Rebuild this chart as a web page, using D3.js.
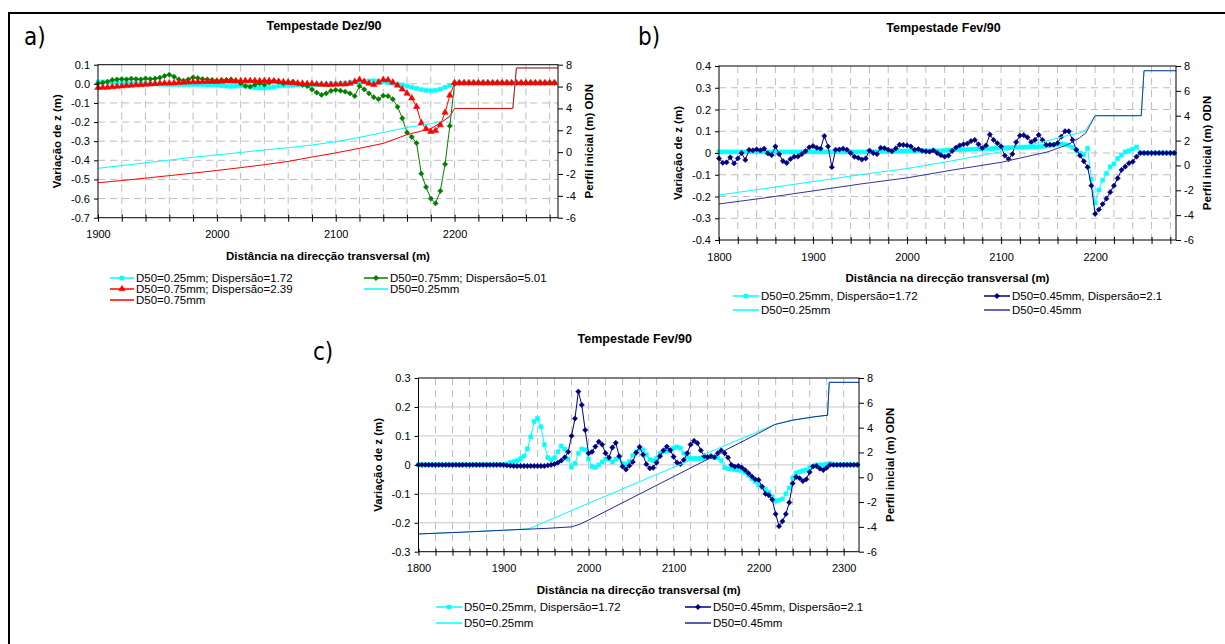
<!DOCTYPE html>
<html><head><meta charset="utf-8">
<script src="https://cdn.jsdelivr.net/npm/d3@7"></script>
<style>
body{margin:0;background:#fff}
svg{display:block}
text{font-family:"Liberation Sans",Arial,sans-serif;fill:#000}
</style>
</head><body>
<svg id="chart" width="1225" height="644"></svg>
<script>
// ---------------- DATA ----------------
// Panel a) Tempestade Dez/90 : distance grid (m), step 4
const distA = d3.range(1900, 2285, 4);
const aDisp025_172 = [
 0.010,0.010,0.009,0.008,0.007,0.006,0.005,0.004,0.003,0.002,
 0.001,0,0,-0.002,-0.003,-0.004,-0.004,-0.004,-0.005,-0.005,
 -0.004,-0.004,-0.005,-0.006,-0.007,-0.008,-0.010,-0.012,-0.014,-0.012,
 -0.010,-0.012,-0.016,-0.020,-0.022,-0.022,-0.020,-0.016,-0.012,-0.010,
 -0.008,-0.008,-0.006,-0.005,-0.005,-0.004,-0.004,-0.003,-0.002,0,
 0,0.002,0.004,0.006,0.008,0.010,0.012,0.015,0.016,0.014,
 0.010,0.006,0.002,-0.002,-0.006,-0.012,-0.018,-0.024,-0.030,-0.034,
 -0.036,-0.034,-0.028,-0.018,-0.008,
 0.005,0.005,0.005,0.005,0.005,0.005,0.005,0.005,0.005,0.005,0.005,
 0.005,0.005,0.005,0.005,0.005,0.005,0.005,0.005,0.005,0.005,0.005];
const aDisp075_501 = [
 0.002,0.006,0.011,0.020,0.023,0.025,0.023,0.027,0.025,0.023,
 0.028,0.025,0.027,0.032,0.041,0.048,0.037,0.023,0.016,0.023,
 0.034,0.030,0.025,0.023,0.020,0.016,0.020,0.020,0.023,0.016,
 0.002,-0.012,-0.015,-0.005,0.002,-0.005,0.006,0.016,0.011,0.002,
 0.008,0.011,0.002,-0.006,-0.012,-0.029,-0.046,-0.058,-0.050,-0.037,
 -0.032,-0.036,-0.041,-0.050,-0.064,-0.012,-0.029,-0.050,-0.070,-0.080,
 -0.062,-0.064,-0.080,-0.120,-0.180,-0.255,-0.278,-0.310,-0.470,-0.540,
 -0.600,-0.625,-0.560,-0.420,-0.220,
 0,0.005,0.005,0.005,0.005,0.005,0.005,0.005,0.005,0.005,0.005,
 0.005,0.005,0.005,0.005,0.005,0.005,0.005,0.005,0.005,0.005,0.005];
const aDisp075_239 = [
 -0.020,-0.019,-0.018,-0.016,-0.014,-0.012,-0.010,-0.008,-0.006,-0.005,
 -0.003,-0.002,0,0.002,0.003,0.003,0.004,0.006,0.008,0.009,
 0.010,0.010,0.011,0.012,0.012,0.012,0.013,0.014,0.014,0.015,
 0.015,0.016,0.016,0.016,0.015,0.016,0.016,0.014,0.012,0.010,
 0.008,0.005,0.003,0.002,0.001,0,-0.002,-0.003,-0.004,-0.004,
 -0.003,-0.002,-0.002,0.002,0.012,0.022,0.012,0.002,-0.004,0.008,
 0.022,0.020,0.008,-0.008,-0.028,-0.050,-0.075,-0.120,-0.205,-0.235,
 -0.250,-0.245,-0.215,-0.150,-0.060,
 0.005,0.005,0.005,0.005,0.005,0.005,0.005,0.005,0.005,0.005,0.005,
 0.005,0.005,0.005,0.005,0.005,0.005,0.005,0.005,0.005,0.005,0.005];
// initial profiles (m ODN), [distance, level]
const aProf025 = [[1900,-1.48],[1920,-1.23],[1940,-0.98],[1960,-0.73],[1980,-0.47],[2000,-0.25],
 [2020,-0.03],[2040,0.2],[2060,0.4],[2080,0.65],[2100,0.95],[2120,1.35],[2140,1.8],[2160,2.25],
 [2180,2.6],[2190,2.85],[2196,3.2],[2200,4.0],[2249,4.0],[2252,7.7],[2287,7.7]];
const aProf075 = [[1900,-2.8],[1920,-2.6],[1940,-2.38],[1960,-2.15],[1980,-1.92],[2000,-1.68],
 [2020,-1.42],[2040,-1.15],[2060,-0.85],[2080,-0.45],[2100,-0.07],[2120,0.35],[2140,0.8],[2160,1.6],
 [2180,2.15],[2190,2.8],[2196,3.3],[2200,4.0],[2249,4.0],[2252,7.7],[2287,7.7]];

// Panel b) Tempestade Fev/90
const distB = d3.range(1800, 2285, 4);
const bDisp025_172 = [
 0.005,0.005,0.005,0.005,0.005,0.005,0.005,0.005,0.005,0.005,
 0.005,0.005,0.005,0.005,0.005,0.005,0.005,0.005,0.005,0.005,
 0.005,0.005,0.005,0.005,0.005,0.005,0.005,0.005,0.005,0.005,
 0.005,0.005,0.005,0.005,0.005,0.005,0.005,0.005,0.005,0.005,
 0.006,0.006,0.007,0.007,0.007,0.008,0.008,0.008,0.009,0.009,
 0.010,0.010,0.010,0.010,0.010,0.010,0.010,0.010,0.010,0.010,
 0.012,0.013,0.014,0.015,0.015,0.016,0.016,0.017,0.018,0.018,
 0.019,0.020,0.020,0.021,0.022,0.023,0.024,0.025,0.025,0.026,
 0.026,0.027,0.027,0.028,0.028,0.029,0.030,0.032,0.035,0.038,
 0.040,0.042,0.040,0.035,0.025,0.012,0.000,-0.008,0.022,-0.120,
 -0.230,-0.170,-0.125,-0.094,-0.063,-0.050,-0.025,-0.010,0.005,0.010,
 0.018,0.028,0,0,0,0,0,0,0,0,
 0,0];
const bDisp045_21 = [
 -0.025,-0.045,-0.043,-0.020,-0.048,-0.025,0.000,-0.032,0.014,0.012,
 0.017,0.012,0.020,-0.002,-0.010,0.030,-0.005,-0.037,-0.046,-0.028,
 -0.017,-0.016,-0.005,0.008,0.026,0.032,0.024,0.020,0.078,0.030,
 -0.065,0.015,0.016,0.020,0.015,0.000,-0.017,-0.022,-0.030,-0.025,
 0.011,0.000,-0.005,0.024,0.022,0.015,0.008,0.021,0.038,0.037,
 0.035,0.030,0.015,0.018,0.010,0.008,0.006,0.012,0.000,-0.010,
 -0.017,-0.012,0.010,0.025,0.035,0.040,0.043,0.055,0.060,0.040,
 0.022,0.035,0.085,0.060,0.045,0.030,-0.012,-0.028,-0.005,0.050,
 0.080,0.082,0.072,0.050,0.060,0.083,0.060,0.037,0.038,0.038,
 0.045,0.075,0.100,0.100,0.060,0.015,-0.012,-0.038,-0.065,-0.150,
 -0.280,-0.260,-0.235,-0.210,-0.180,-0.150,-0.116,-0.078,-0.063,-0.047,
 -0.040,-0.017,0,0,0,0,0,0,0,0,
 0,0];
const bProf025 = [[1800,-2.38],[1850,-1.85],[1900,-1.3],[1950,-0.75],[2000,-0.25],[2050,0.4],
 [2100,1.1],[2150,2.0],[2170,2.4],[2183,2.6],[2190,2.85],[2195,3.4],[2200,4.0],[2249,4.0],[2252,7.62],[2286,7.62]];
const bProf045 = [[1800,-3.1],[1850,-2.6],[1900,-2.05],[1950,-1.5],[2000,-1.0],[2050,-0.35],
 [2100,0.25],[2150,1.1],[2170,1.65],[2183,2.2],[2190,2.6],[2195,3.3],[2200,4.0],[2249,4.0],[2252,7.62],[2286,7.62]];

// Panel c) Tempestade Fev/90
const distC = d3.range(1800, 2317, 4);
const cDisp025_172 = [
 0,0,0,0,0,0,0,0,0,0,
 0,0,0,0,0,0,0,0,0,0,
 0,0,0,0,0,0,0.003,0.008,0.011,0.015,
 0.021,0.030,0.055,0.097,0.150,0.160,0.132,0.070,0.025,0.017,
 0.024,0.045,0.065,0.055,0.020,-0.008,0.005,0.040,0.055,0.052,
 0.020,-0.006,-0.009,0.000,0.010,0.020,0.020,0.010,0.020,0.025,
 0.005,0.002,0.012,0.032,0.045,0.056,0.052,0.035,0.018,0.015,
 0.022,0.040,0.045,0.048,0.050,0.058,0.062,0.058,0.040,0.028,
 0.022,0.022,0.022,0.022,0.022,0.026,0.028,0.026,0.024,0.015,
 -0.010,-0.013,-0.015,-0.016,-0.018,-0.020,-0.026,-0.036,-0.048,-0.058,
 -0.070,-0.078,-0.084,-0.095,-0.110,-0.125,-0.122,-0.118,-0.100,-0.080,
 -0.045,-0.028,-0.024,-0.020,-0.018,-0.010,-0.005,0.000,0.000,0.000,
 0.003,0.005,0,0,0,0,0,0,0,0];
const cDisp045_21 = [
 0,0,0,0,0,0,0,0,0,0,
 0,0,0,0,0,0,0,0,0,0,
 0,0,0,0,0,0,-0.002,-0.003,-0.004,-0.004,
 -0.004,-0.004,-0.004,-0.004,-0.004,-0.004,-0.004,-0.004,-0.002,0.000,
 0.003,0.008,0.015,0.026,0.045,0.100,0.160,0.253,0.207,0.120,
 0.040,0.045,0.063,0.080,0.070,0.040,0.025,0.060,0.076,0.030,
 -0.006,-0.016,-0.003,0.010,0.042,0.062,0.035,0.002,-0.012,-0.010,
 0.008,0.030,0.050,0.063,0.051,0.028,0.008,0.003,0.017,0.040,
 0.070,0.083,0.075,0.050,0.030,0.027,0.030,0.026,0.040,0.050,
 0.040,0.025,0.000,-0.006,-0.004,-0.009,-0.018,-0.029,-0.040,-0.050,
 -0.052,-0.075,-0.100,-0.105,-0.120,-0.170,-0.212,-0.195,-0.170,-0.130,
 -0.064,-0.042,-0.046,-0.056,-0.050,-0.025,-0.005,-0.004,-0.013,-0.018,
 -0.010,0.000,0,0,0,0,0,0,0,0];
const cProf025 = [[1800,-4.57],[1850,-4.43],[1900,-4.27],[1930,-4.15],[2000,-2.1],[2100,0.8],
 [2200,3.7],[2219,4.25],[2240,4.6],[2265,4.87],[2281,5.0],[2283,7.65],[2318,7.65]];
const cProf045 = [[1800,-4.57],[1850,-4.43],[1900,-4.27],[1950,-4.12],[1980,-4.0],[1990,-3.78],
 [2000,-3.45],[2100,0.05],[2200,3.55],[2219,4.25],[2240,4.6],[2265,4.87],[2281,5.0],[2283,7.65],[2318,7.65]];

// tick labels
const ticksLeftA = [-7,-6,-5,-4,-3,-2,-1,0,1].map(i => i / 10);
const ticksLeftB = [-4,-3,-2,-1,0,1,2,3,4].map(i => i / 10);
const ticksLeftC = [-3,-2,-1,0,1,2,3].map(i => i / 10);
const ticksRight = [-6,-4,-2,0,2,4,6,8];

// ---------------- DRAWING ----------------
const svg = d3.select("#chart");
const C = {cyan:"#00FFFF", red:"#FF0000", green:"#008000", navy:"#000080", navyLine:"#33339A"};

// page frame
svg.append("path").attr("d", d3.line()([[9,644],[9,13],[1225,13]]))
  .attr("fill","none").attr("stroke","#000").attr("stroke-width",2);

function symbolPath(kind){
  if (kind === "square") return d3.symbol(d3.symbolSquare, 16)();
  if (kind === "triangle") return d3.symbol(d3.symbolTriangle, 18)();
  return d3.symbol(d3.symbolSquare, 14)(); // diamond (rotated)
}
function addMarker(sel, kind, color, px, py){
  sel.append("path").attr("d", symbolPath(kind))
    .attr("transform", `translate(${px},${py})` + (kind === "diamond" ? " rotate(45)" : ""))
    .attr("fill", color).attr("stroke", color).attr("stroke-width", 0.5);
}

function drawPanel(p){
  const g = svg.append("g");
  const x = d3.scaleLinear().domain(p.xDom).range([p.l, p.r]);
  const yL = d3.scaleLinear().domain(p.yLDom).range([p.b, p.t]);
  const yR = d3.scaleLinear().domain([-6, 8]).range([p.b, p.t]);
  const xMinor = d3.range(p.xDom[0], p.xDom[1] + 1e-6, 20);

  // gridlines
  const grid = g.append("g").attr("stroke", "#BDBDBD").attr("stroke-width", 1);
  xMinor.filter(v => v > p.xDom[0] && x(v) < p.r - 1).forEach(v => {
    grid.append("line").attr("x1", x(v)).attr("x2", x(v)).attr("y1", p.t).attr("y2", p.b)
      .attr("stroke-dasharray", "7,5");
  });
  p.yLTicks.filter(v => v > p.yLDom[0] + 1e-9 && v < p.yLDom[1] - 1e-9).forEach(v => {
    const ln = grid.append("line").attr("x1", p.l).attr("x2", p.r).attr("y1", yL(v)).attr("y2", yL(v));
    if (p.hGrid === "dash") ln.attr("stroke-dasharray", "7,5"); else ln.attr("stroke", "#C8C8C8");
  });

  // series
  p.series.forEach(s => {
    const yS = s.axis === "R" ? yR : yL;
    const pts = s.pts || s.dist.map((d, i) => [d, s.vals[i]]).filter(d => d[1] !== undefined);
    g.append("path").datum(pts)
      .attr("d", d3.line().x(d => x(d[0])).y(d => yS(d[1])))
      .attr("fill", "none").attr("stroke", s.color).attr("stroke-width", s.width || 1);
    if (s.marker) {
      const mg = g.append("g");
      pts.forEach(d => addMarker(mg, s.marker, s.color, x(d[0]), yS(d[1])));
    }
  });

  // plot frame
  g.append("rect").attr("x", p.l).attr("y", p.t).attr("width", p.r - p.l).attr("height", p.b - p.t)
    .attr("fill", "none").attr("stroke", "#000").attr("stroke-width", 1);

  // bottom axis
  const ax = g.append("g").attr("transform", `translate(0,${p.b})`)
    .call(d3.axisBottom(x).tickValues(xMinor).tickSizeOuter(0).tickSize(4)
      .tickFormat(d => (d % 100 === 0 ? d : "")));
  ax.select(".domain").remove();
  ax.selectAll(".tick line").attr("y1", -3).attr("y2", 4).attr("stroke", "#000");
  ax.selectAll(".tick text").attr("y", 13).attr("font-size", 11)
    .style("font-family", '"Liberation Sans",Arial,sans-serif');

  // left axis
  const al = g.append("g").attr("transform", `translate(${p.l},0)`)
    .call(d3.axisLeft(yL).tickValues(p.yLTicks).tickSizeOuter(0).tickSize(4).tickPadding(4)
      .tickFormat(p.yLFmt));
  al.select(".domain").remove();
  al.selectAll(".tick text").attr("font-size", 11).style("font-family", '"Liberation Sans",Arial,sans-serif');

  // right axis (hyphen minus as in the source)
  const ar = g.append("g").attr("transform", `translate(${p.r},0)`)
    .call(d3.axisRight(yR).tickValues(ticksRight).tickSizeOuter(0).tickSize(5).tickPadding(3)
      .tickFormat(d => String(d)));
  ar.select(".domain").remove();
  ar.selectAll(".tick text").attr("font-size", 11).style("font-family", '"Liberation Sans",Arial,sans-serif');

  // titles
  const cx = (p.l + p.r) / 2;
  g.append("text").attr("x", cx - 4).attr("y", p.titleY).attr("text-anchor", "middle")
    .attr("dominant-baseline", "central").attr("font-weight", "bold").attr("font-size", 12.5).text(p.title);
  g.append("text").attr("x", cx).attr("y", p.b + 38).attr("text-anchor", "middle")
    .attr("dominant-baseline", "central").attr("font-weight", "bold").attr("font-size", 11.5)
    .text("Distância na direcção transversal (m)");
  g.append("text").attr("transform", `translate(${p.l - 41},${(p.t + p.b) / 2}) rotate(-90)`)
    .attr("text-anchor", "middle").attr("dominant-baseline", "central")
    .attr("font-weight", "bold").attr("font-size", 11.5).text("Variação de z (m)");
  g.append("text").attr("transform", `translate(${p.r + 31},${(p.t + p.b) / 2}) rotate(-90)`)
    .attr("text-anchor", "middle").attr("dominant-baseline", "central")
    .attr("font-weight", "bold").attr("font-size", 11.5).text("Perfil inicial (m) ODN");
  // panel letter
  g.append("text").attr("x", p.letterX).attr("y", p.letterY).attr("dominant-baseline", "central")
    .attr("font-size", 24).style("font-family", '"Liberation Sans Narrow","DejaVu Sans Condensed",sans-serif')
    .text(p.letter);

  // legend
  p.legend.forEach(it => {
    const col = p.legCols[it.col], ly = p.legRows[it.row];
    g.append("line").attr("x1", col[0]).attr("x2", col[1]).attr("y1", ly).attr("y2", ly)
      .attr("stroke", it.color).attr("stroke-width", 1.5);
    if (it.marker) addMarker(g, it.marker, it.color, (col[0] + col[1]) / 2, ly);
    g.append("text").attr("x", col[1] + 2).attr("y", ly).attr("dominant-baseline", "central")
      .attr("font-size", 11.5).text(it.label);
  });
}

const fmt1 = d => d.toFixed(1);
const fmtZero = d => (Math.abs(d) < 1e-9 ? "0" : d.toFixed(1));

drawPanel({
  l: 98, r: 558, t: 64.7, b: 217.7, xDom: [1900, 2287], yLDom: [-0.7, 0.1],
  yLTicks: ticksLeftA, yLFmt: fmt1, hGrid: "dash",
  title: "Tempestade Dez/90", titleY: 26, letter: "a)", letterX: 24, letterY: 37,
  series: [
    {dist: distA, vals: aDisp025_172, color: C.cyan, marker: "square"},
    {dist: distA, vals: aDisp075_501, color: C.green, marker: "diamond"},
    {dist: distA, vals: aDisp075_239, color: C.red, marker: "triangle"},
    {pts: aProf025, color: C.cyan, axis: "R"},
    {pts: aProf075, color: C.red, axis: "R"}
  ],
  legRows: [278, 289, 300], legCols: [[110, 134], [364, 388]],
  legend: [
    {label: "D50=0.25mm; Dispersão=1.72", color: C.cyan, marker: "square", col: 0, row: 0},
    {label: "D50=0.75mm; Dispersão=5.01", color: C.green, marker: "diamond", col: 1, row: 0},
    {label: "D50=0.75mm; Dispersão=2.39", color: C.red, marker: "triangle", col: 0, row: 1},
    {label: "D50=0.25mm", color: C.cyan, col: 1, row: 1},
    {label: "D50=0.75mm", color: C.red, col: 0, row: 2}
  ]
});

drawPanel({
  l: 719, r: 1176, t: 66, b: 240, xDom: [1800, 2286], yLDom: [-0.4, 0.4],
  yLTicks: ticksLeftB, yLFmt: fmtZero, hGrid: "dash",
  title: "Tempestade Fev/90", titleY: 28, letter: "b)", letterX: 638, letterY: 37,
  series: [
    {dist: distB, vals: bDisp025_172, color: C.cyan, marker: "square"},
    {dist: distB, vals: bDisp045_21, color: C.navy, marker: "diamond"},
    {pts: bProf025, color: C.cyan, axis: "R"},
    {pts: bProf045, color: C.navyLine, axis: "R"}
  ],
  legRows: [296, 310], legCols: [[733, 759], [984, 1010]],
  legend: [
    {label: "D50=0.25mm, Dispersão=1.72", color: C.cyan, marker: "square", col: 0, row: 0},
    {label: "D50=0.45mm, Dispersão=2.1", color: C.navy, marker: "diamond", col: 1, row: 0},
    {label: "D50=0.25mm", color: C.cyan, col: 0, row: 1},
    {label: "D50=0.45mm", color: C.navyLine, col: 1, row: 1}
  ]
});

drawPanel({
  l: 418.5, r: 859, t: 378, b: 551.7, xDom: [1800, 2318], yLDom: [-0.3, 0.3],
  yLTicks: ticksLeftC, yLFmt: fmtZero, hGrid: "solid",
  title: "Tempestade Fev/90", titleY: 339, letter: "c)", letterX: 313, letterY: 352,
  series: [
    {dist: distC, vals: cDisp025_172, color: C.cyan, marker: "square"},
    {dist: distC, vals: cDisp045_21, color: C.navy, marker: "diamond"},
    {pts: cProf025, color: C.cyan, axis: "R"},
    {pts: cProf045, color: "#1C2A94", axis: "R"}
  ],
  legRows: [607, 623], legCols: [[436, 462], [685, 711]],
  legend: [
    {label: "D50=0.25mm, Dispersão=1.72", color: C.cyan, marker: "square", col: 0, row: 0},
    {label: "D50=0.45mm, Dispersão=2.1", color: C.navy, marker: "diamond", col: 1, row: 0},
    {label: "D50=0.25mm", color: C.cyan, col: 0, row: 1},
    {label: "D50=0.45mm", color: "#1C2A94", col: 1, row: 1}
  ]
});
</script>
</body></html>
